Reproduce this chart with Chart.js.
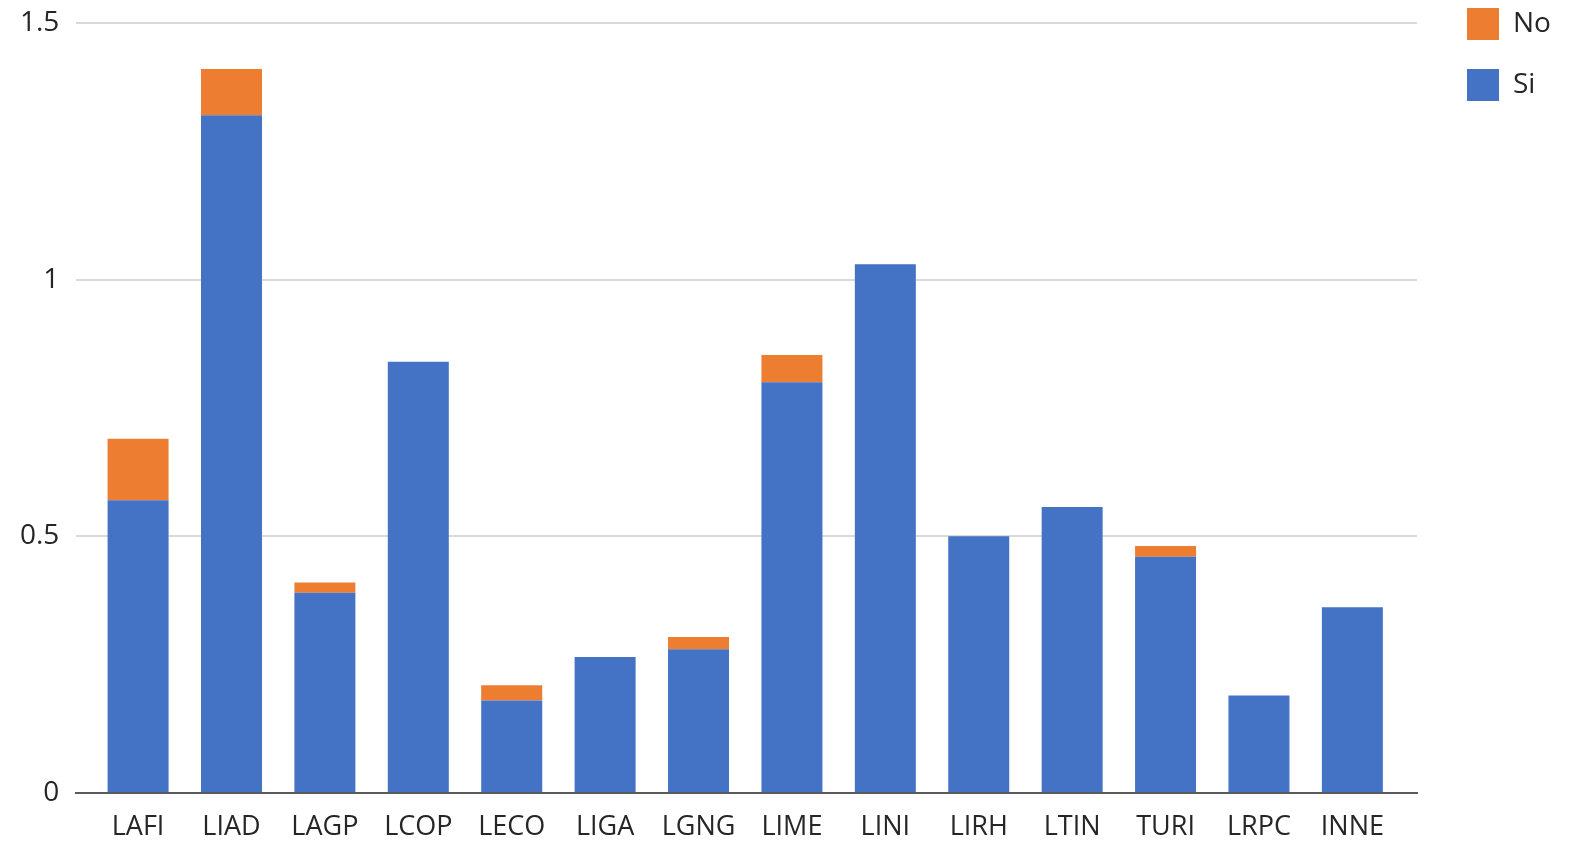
<!DOCTYPE html>
<html><head><meta charset="utf-8">
<script src="https://cdn.jsdelivr.net/npm/chart.js@4"></script>
<style>html,body{margin:0;padding:0;background:#fff;overflow:hidden}#wrap{width:1572px;height:844px}</style>
</head><body><div id="wrap"><canvas id="c" width="1572" height="844"></canvas></div>
<script>
const categories = ['LAFI','LIAD','LAGP','LCOP','LECO','LIGA','LGNG','LIME','LINI','LIRH','LTIN','TURI','LRPC','INNE'];
const siValues = [0.57,1.32,0.39,0.84,0.18,0.265,0.28,0.80,1.03,0.50,0.557,0.46,0.19,0.362];
const noValues = [0.12,0.09,0.02,0,0.03,0,0.024,0.053,0,0,0,0.021,0,0];
const yTicks = [0,0.5,1,1.5];

const FONT = "'Open Sans', 'Noto Sans', sans-serif";
const LEG_PAD = 29;
const layoutTweak = {
  id:'layoutTweak',
  afterLayout(chart){
    const lg = chart.legend;
    if (lg) {
      const w = lg.right - lg.left, h = lg.bottom - lg.top;
      lg.left = 1467 - LEG_PAD; lg.right = lg.left + w;
      lg.top = 8 - LEG_PAD; lg.bottom = lg.top + h;
    }
    // category band inset inside the plot frame (as in the reference)
    const xs = chart.scales.x;
    xs._startPixel = xs.left + 15;
    xs._endPixel = xs.right - 18;
    xs._length = xs._endPixel - xs._startPixel;
  }
};
new Chart(document.getElementById('c'), {
  type: 'bar',
  data: {
    labels: categories,
    datasets: [
      {label:'Si', data: siValues, backgroundColor:'#4472C4', barPercentage:0.653, categoryPercentage:1},
      {label:'No', data: noValues, backgroundColor:'#ED7D31', barPercentage:0.653, categoryPercentage:1}
    ]
  },
  plugins:[layoutTweak],
  options: {
    responsive:false, animation:false,
    layout:{padding:{top:0,left:14,right:32,bottom:0}},
    plugins:{
      tooltip:{enabled:false},
      legend:{position:'right', align:'start', reverse:true,
        labels:{boxWidth:32, boxHeight:32, padding:LEG_PAD, color:'#262626', font:{family:FONT,size:28}}}
    },
    scales:{
      x:{stacked:true,
        afterFit: s => { s.height = 51; },
        grid:{display:false, drawTicks:false},
        border:{display:true,color:'#595959',width:2},
        ticks:{color:'#262626',padding:18,font:{family:FONT,size:27},maxRotation:0}},
      y:{stacked:true, min:0, max:1.5,
        afterBuildTicks: s => { s.ticks = yTicks.map(v=>({value:v})); },
        grid:{color:'#d9d9d9', lineWidth:2, drawTicks:true, tickLength:11, tickColor:'rgba(0,0,0,0)'},
        border:{display:false},
        ticks:{color:'#262626',padding:6,font:{family:FONT,size:28}, callback: v => String(v)}}
    }
  }
});
</script></body></html>
